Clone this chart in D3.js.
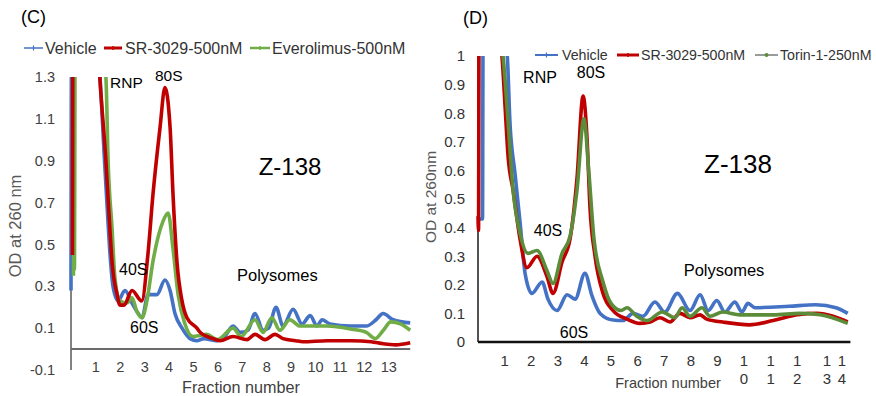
<!DOCTYPE html>
<html>
<head>
<meta charset="utf-8">
<script src="https://cdn.jsdelivr.net/npm/d3@7/dist/d3.min.js"></script>
<style>
  html, body { margin: 0; padding: 0; background: #ffffff; }
  svg { display: block; font-family: "Liberation Sans", Arial, sans-serif; }
</style>
</head>
<body>
<div id="chart"></div>
<script>
// ---------------- DATA ----------------
// Panel (C)
const seriesNamesC = ["Vehicle", "SR-3029-500nM", "Everolimus-500nM"];
const fracTicksC = [1, 2, 3, 4, 5, 6, 7, 8, 9, 10, 11, 12, 13];
const odTicksC = [-0.1, 0.1, 0.3, 0.5, 0.7, 0.9, 1.1, 1.3];
const odLabelsC = ["-0.1", "0.1", "0.3", "0.5", "0.7", "0.9", "1.1", "1.3"];

const vehicleC = [[0.0,0.28],[0.02,1.45],[1.1,1.45],[1.19,1.3],[1.35,0.95],[1.52,0.6],[1.62,0.42],[1.72,0.3],
  [1.93,0.23],[2.21,0.28],[2.5,0.22],[2.7,0.18],[2.91,0.15],[3.16,0.26],[3.52,0.26],[3.85,0.33],[4.06,0.28],
  [4.26,0.17],[4.55,0.10],[4.88,0.05],[5.16,0.04],[5.45,0.05],[5.98,0.04],[6.3,0.06],[6.64,0.11],[6.93,0.08],
  [7.25,0.09],[7.54,0.17],[7.87,0.09],[8.1,0.1],[8.4,0.20],[8.69,0.11],[9.1,0.19],[9.47,0.12],[9.8,0.16],
  [10.08,0.11],[10.29,0.14],[10.61,0.12],[11.43,0.11],[12.1,0.11],[12.5,0.14],[12.79,0.17],[13.2,0.14],[13.9,0.125]];

const srC = [[0.06,0.45],[0.08,1.45],[1.1,1.45],[1.19,1.28],[1.43,0.90],[1.59,0.58],[1.68,0.42],[1.89,0.26],
  [2.01,0.21],[2.17,0.21],[2.5,0.28],[2.9,0.23],[3.15,0.45],[3.36,0.74],[3.65,1.06],[3.85,1.25],[4.06,1.06],
  [4.18,0.74],[4.34,0.42],[4.55,0.23],[4.75,0.15],[5.16,0.10],[5.29,0.08],[5.82,0.05],[6.11,0.04],[6.64,0.06],
  [7.21,0.045],[7.54,0.07],[7.95,0.045],[8.36,0.07],[8.69,0.05],[9.2,0.04],[9.5,0.035],[10.5,0.04],[11.5,0.04],
  [12.3,0.035],[12.8,0.025],[13.3,0.02],[13.9,0.03]];

const everoC = [[0.1,0.35],[0.12,0.66],[0.14,0.38],[0.17,1.45],[1.25,1.45],[1.43,1.3],[1.52,0.9],[1.68,0.58],
  [1.8,0.34],[2.01,0.23],[2.29,0.22],[2.5,0.245],[2.7,0.18],[2.91,0.15],[3.11,0.23],[3.36,0.42],[3.77,0.61],
  [3.98,0.65],[4.18,0.48],[4.39,0.26],[4.67,0.12],[5.0,0.06],[5.3,0.065],[5.55,0.07],[6.0,0.045],[6.64,0.10],
  [6.97,0.06],[7.54,0.14],[7.87,0.08],[8.23,0.15],[8.56,0.09],[8.97,0.14],[9.38,0.11],[10.5,0.11],[11.5,0.095],
  [12.1,0.08],[12.46,0.05],[12.8,0.09],[13.1,0.13],[13.5,0.12],[13.9,0.09]];

// Panel (D)
const seriesNamesD = ["Vehicle", "SR-3029-500nM", "Torin-1-250nM"];
const fracTicksD = [1, 2, 3, 4, 5, 6, 7, 8, 9, 10, 11, 12, 13.12, 13.68];
const fracLabelsD = ["1","2","3","4","5","6","7","8","9","10","11","12","13","14"];
const odTicksD = [0, 0.1, 0.2, 0.3, 0.4, 0.5, 0.6, 0.7, 0.8, 0.9, 1];
const odLabelsD = ["0","0.1","0.2","0.3","0.4","0.5","0.6","0.7","0.8","0.9","1"];

const vehicleD = [[0.0,0.43],[0.17,0.43],[0.19,1.06],[1.0,1.06],[1.1,1.0],[1.2,0.77],[1.39,0.59],[1.58,0.42],
  [1.77,0.24],[2.03,0.17],[2.41,0.21],[2.63,0.15],[2.97,0.11],[3.35,0.165],[3.65,0.15],[4.02,0.24],[4.29,0.16],
  [4.59,0.10],[5.08,0.077],[5.45,0.075],[5.83,0.10],[6.2,0.09],[6.65,0.14],[7.02,0.105],[7.5,0.17],[7.97,0.11],
  [8.35,0.165],[8.65,0.11],[8.98,0.145],[9.28,0.105],[9.66,0.14],[9.92,0.105],[10.15,0.135],[10.41,0.12],
  [11.7,0.125],[12.7,0.13],[13.46,0.12],[13.9,0.10]];

const srD = [[0.0,0.44],[0.02,0.39],[0.04,1.06],[0.8,1.06],[0.9,1.0],[1.02,0.82],[1.13,0.65],[1.32,0.53],
  [1.58,0.36],[1.84,0.26],[2.22,0.30],[2.59,0.23],[2.82,0.17],[3.16,0.28],[3.46,0.36],[3.72,0.57],[3.95,0.86],
  [4.1,0.71],[4.21,0.47],[4.4,0.30],[4.7,0.17],[5.08,0.11],[5.6,0.08],[6.09,0.065],[6.47,0.07],[6.84,0.085],
  [7.22,0.07],[7.59,0.10],[7.97,0.085],[8.35,0.095],[8.6,0.08],[9.2,0.07],[10.2,0.06],[11.1,0.075],[12.0,0.095],
  [12.74,0.10],[13.35,0.09],[13.9,0.07]];

const torinD = [[0.85,1.06],[0.94,1.0],[1.13,0.77],[1.32,0.53],[1.58,0.38],[1.88,0.31],[2.22,0.32],[2.59,0.25],
  [2.82,0.205],[3.16,0.31],[3.46,0.37],[3.72,0.53],[3.98,0.78],[4.17,0.59],[4.36,0.36],[4.7,0.21],[5.0,0.135],
  [5.38,0.11],[5.6,0.12],[5.97,0.09],[6.35,0.075],[6.92,0.105],[7.4,0.085],[7.67,0.12],[7.97,0.09],[8.42,0.12],
  [8.72,0.09],[9.2,0.105],[9.85,0.095],[11.1,0.095],[12.1,0.10],[12.86,0.095],[13.9,0.065]];

// ---------------- DRAW ----------------
const W = 876, H = 396;
const svg = d3.select("#chart").append("svg").attr("width", W).attr("height", H);
const defs = svg.append("defs");

const colBlue = "#4472C4", colRed = "#C00000", colGreenC = "#70AD47", colGreenD = "#5B8C3A";
const tickCol = "#404040";

// ===== Panel C =====
const xC = d3.scaleLinear().domain([0, 13.9]).range([71, 410.2]);
const yC = d3.scaleLinear().domain([-0.1, 1.3]).range([370, 77]);

defs.append("clipPath").attr("id", "clipC").append("rect")
  .attr("x", 60).attr("y", yC(1.3)).attr("width", 360).attr("height", yC(-0.1) - yC(1.3));

const gC = svg.append("g");
gC.append("line").attr("x1", xC(0)).attr("x2", xC(0)).attr("y1", yC(1.3)).attr("y2", yC(-0.1))
  .attr("stroke", "#595959").attr("stroke-width", 1.5);
gC.append("line").attr("x1", xC(0)).attr("x2", xC(13.9)).attr("y1", yC(0)).attr("y2", yC(0))
  .attr("stroke", "#6b6b6b").attr("stroke-width", 2);

const axLC = gC.append("g").attr("transform", `translate(${xC(0)},0)`)
  .call(d3.axisLeft(yC).tickValues(odTicksC).tickSize(0).tickPadding(16)
    .tickFormat((d, i) => odLabelsC[i]));
axLC.select(".domain").remove();
axLC.selectAll("text").attr("font-size", 14.5).attr("fill", tickCol).attr("font-family", "Liberation Sans, Arial, sans-serif");

const axBC = gC.append("g").attr("transform", `translate(0,${yC(0)})`)
  .call(d3.axisBottom(xC).tickValues(fracTicksC).tickSize(0).tickPadding(13).tickFormat(d3.format("d")));
axBC.select(".domain").remove();
axBC.selectAll("text").attr("font-size", 14.5).attr("fill", tickCol).attr("font-family", "Liberation Sans, Arial, sans-serif");

const lineC = d3.line().x(d => xC(d[0])).y(d => yC(d[1])).curve(d3.curveMonotoneX);
const plotC = gC.append("g").attr("clip-path", "url(#clipC)");
[[vehicleC, colBlue], [everoC, colGreenC], [srC, colRed]].forEach(([data, col]) => {
  plotC.append("path").datum(data).attr("d", lineC).attr("fill", "none")
    .attr("stroke", col).attr("stroke-width", 3.6).attr("stroke-linejoin", "round");
});

const txt = (x, y, s, size, opts = {}) => svg.append("text").attr("x", x).attr("y", y)
  .attr("font-size", size).attr("fill", opts.fill || "#000").attr("text-anchor", opts.anchor || "start")
  .attr("transform", opts.rot ? `rotate(-90,${x},${y})` : null).text(s);

txt(21, 23, "(C)", 18);
txt(110, 88, "RNP", 15.5);
txt(155, 81, "80S", 15.5);
txt(119, 275, "40S", 16);
txt(130, 333, "60S", 16);
txt(237, 281, "Polysomes", 16.5);
txt(290, 175, "Z-138", 24, { anchor: "middle" });
txt(241, 393, "Fraction number", 16.2, { anchor: "middle", fill: "#404040" });
txt(21, 226, "OD at 260 nm", 16.5, { anchor: "middle", fill: "#595959", rot: true });

function legendItem(x1, x2, y, col, w, tx, label, size, marker, lineCol) {
  svg.append("line").attr("x1", x1).attr("x2", x2).attr("y1", y).attr("y2", y)
    .attr("stroke", lineCol || col).attr("stroke-width", w);
  const mx = (x1 + x2) / 2;
  if (marker === "plus") {
    svg.append("line").attr("x1", mx).attr("x2", mx).attr("y1", y - 2.5).attr("y2", y + 2.5)
      .attr("stroke", col).attr("stroke-width", 1.2);
  } else if (marker === "dash") {
    svg.append("line").attr("x1", mx).attr("x2", mx).attr("y1", y - 2).attr("y2", y + 2)
      .attr("stroke", col).attr("stroke-width", 1.5);
  } else if (marker === "dot") {
    svg.append("circle").attr("cx", mx).attr("cy", y).attr("r", 2).attr("fill", col);
  }
  svg.append("text").attr("x", tx).attr("y", y + size * 0.36).attr("font-size", size)
    .attr("fill", "#333").text(label);
}
legendItem(24, 43, 48, colBlue, 1.5, 45, seriesNamesC[0], 16, "plus");
legendItem(104, 122, 48, colRed, 3, 125, seriesNamesC[1], 16, "dash");
legendItem(250, 270, 48, colGreenC, 2.5, 272, seriesNamesC[2], 16, "dash");

// ===== Panel D =====
const xD = d3.scaleLinear().domain([0, 14]).range([478, 850.4]);
const yD = d3.scaleLinear().domain([0, 1]).range([342, 56]);

defs.append("clipPath").attr("id", "clipD").append("rect")
  .attr("x", 470).attr("y", yD(1)).attr("width", 390).attr("height", yD(0) - yD(1));

const gD = svg.append("g");
gD.append("line").attr("x1", xD(0)).attr("x2", xD(0)).attr("y1", yD(1)).attr("y2", yD(0))
  .attr("stroke", "#1a1a1a").attr("stroke-width", 1.5);
gD.append("line").attr("x1", xD(0)).attr("x2", 850.4).attr("y1", yD(0)).attr("y2", yD(0))
  .attr("stroke", "#111").attr("stroke-width", 2.5);

const axLD = gD.append("g").attr("transform", `translate(${xD(0)},0)`)
  .call(d3.axisLeft(yD).tickValues(odTicksD).tickSize(0).tickPadding(13)
    .tickFormat((d, i) => odLabelsD[i]));
axLD.select(".domain").remove();
axLD.selectAll("text").attr("font-size", 15).attr("fill", "#333").attr("font-family", "Liberation Sans, Arial, sans-serif");

const xlabD = gD.append("g").selectAll("text").data(fracTicksD).join("text")
  .attr("x", d => xD(d)).attr("y", 366).attr("text-anchor", "middle")
  .attr("font-size", 15).attr("fill", "#333");
xlabD.each(function(d, i) {
  const s = fracLabelsD[i];
  const t = d3.select(this);
  s.split("").forEach((ch, k) => {
    t.append("tspan").attr("x", xD(d)).attr("dy", k === 0 ? 0 : 18).text(ch);
  });
});

const lineD = d3.line().x(d => xD(d[0])).y(d => yD(d[1])).curve(d3.curveMonotoneX);
const plotD = gD.append("g").attr("clip-path", "url(#clipD)");
[[vehicleD, colBlue], [srD, colRed], [torinD, colGreenD]].forEach(([data, col]) => {
  plotD.append("path").datum(data).attr("d", lineD).attr("fill", "none")
    .attr("stroke", col).attr("stroke-width", 3.6).attr("stroke-linejoin", "round");
});

txt(463, 24, "(D)", 18);
txt(540, 83, "RNP", 16, { anchor: "middle" });
txt(591, 78, "80S", 16, { anchor: "middle" });
txt(548, 236, "40S", 16, { anchor: "middle" });
txt(574, 338, "60S", 16, { anchor: "middle" });
txt(724, 276, "Polysomes", 16.5, { anchor: "middle" });
txt(738, 173, "Z-138", 26, { anchor: "middle" });
txt(668, 388, "Fraction number", 14.5, { anchor: "middle", fill: "#404040" });
txt(436, 197, "OD at 260nm", 15.5, { anchor: "middle", fill: "#595959", rot: true });

legendItem(535, 558, 55, colBlue, 2, 562, seriesNamesD[0], 14.2, "plus");
legendItem(617, 639, 55, colRed, 3, 641, seriesNamesD[1], 14.2, "dash");
legendItem(755, 778, 55, colGreenD, 2, 780, seriesNamesD[2], 14.2, "dot", "#9a9a9a");
</script>
</body>
</html>
